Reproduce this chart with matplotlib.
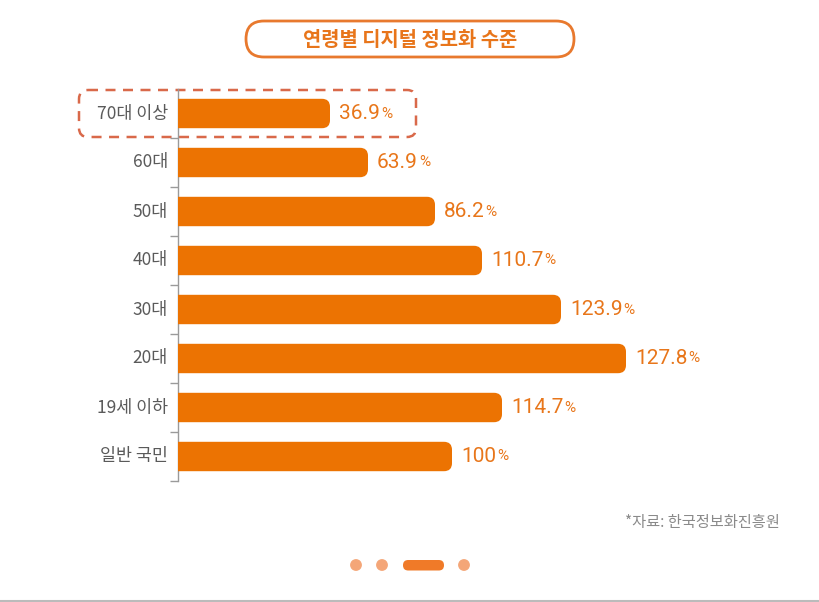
import matplotlib
matplotlib.use("Agg")
import matplotlib.pyplot as plt
from matplotlib.patches import FancyBboxPatch
import numpy as np

plt.rcParams['font.family'] = ['Noto Sans CJK KR', 'DejaVu Sans']

# ---- data ----
categories = ['70대 이상', '60대', '50대', '40대', '30대', '20대', '19세 이하', '일반 국민']
values = [36.9, 63.9, 86.2, 110.7, 123.9, 127.8, 114.7, 100]
value_labels = ['36.9', '63.9', '86.2', '110.7', '123.9', '127.8', '114.7', '100']
# bar lengths as drawn in the picture (arbitrary units; not proportional to values)
bar_lengths = [152, 190, 257, 304, 383, 448, 324, 274]
title = '연령별 디지털 정보화 수준'
source = '*자료: 한국정보화진흥원'

W, H = 820, 602
fig = plt.figure(figsize=(W / 100, H / 100), dpi=100)
fig.patch.set_facecolor('white')

# overlay axes in pixel coordinates for decorations
ov = fig.add_axes([0, 0, 1, 1], zorder=0)
ov.set_xlim(0, W)
ov.set_ylim(H, 0)
ov.axis('off')

# main bar axes
ax_left, ax_top, ax_bottom = 178, 89, 481
ax = fig.add_axes([ax_left / W, (H - ax_bottom) / H, (W - ax_left) / W, (ax_bottom - ax_top) / H], zorder=2)
ax.patch.set_alpha(0)
ax.set_xlim(0, W - ax_left)
ax.set_ylim(len(categories) - 0.5, -0.5)

bar_color = '#EC7302'
label_color = '#E8761A'
bar_h = 0.6
px_per_y = (ax_bottom - ax_top) / len(categories)
for i, L in enumerate(bar_lengths):
    p = FancyBboxPatch((-15, i - bar_h / 2), L + 15, bar_h,
                       boxstyle='round,pad=0,rounding_size=8',
                       mutation_aspect=1 / px_per_y,
                       facecolor=bar_color, edgecolor='none', zorder=3, clip_on=True)
    ax.add_patch(p)

for s in ['top', 'right', 'bottom']:
    ax.spines[s].set_visible(False)
ax.spines['left'].set_color('#9A9A9A')
ax.spines['left'].set_linewidth(1.0)
ax.set_xticks([])
ax.set_yticks(np.arange(0.5, len(categories), 1.0))
ax.set_yticklabels([])
ax.tick_params(axis='y', length=6, color='#9A9A9A', width=1.0, direction='out')

for i, c in enumerate(categories):
    ax.annotate(c, xy=(0, i), xycoords='data', xytext=(-10, 0), textcoords='offset pixels',
                ha='right', va='center', fontsize=12.5, color='#5A5A5A')

# value labels
num_texts = []
for i, (L, lab) in enumerate(zip(bar_lengths, value_labels)):
    t = ax.annotate(lab, xy=(L, i), xycoords='data', xytext=(9, 0), textcoords='offset pixels',
                    ha='left', va='center', fontsize=15, color=label_color,
                    family=['Roboto', 'DejaVu Sans'])
    num_texts.append(t)

fig.canvas.draw()
r = fig.canvas.get_renderer()
for i, t in enumerate(num_texts):
    bb = t.get_window_extent(renderer=r)
    inv = ax.transData.inverted()
    x1 = inv.transform((bb.x1, 0))[0]
    ax.annotate('%', xy=(x1, i), xycoords='data', xytext=(1, 0), textcoords='offset pixels',
                ha='left', va='center', fontsize=11, color=label_color,
                family=['Roboto', 'DejaVu Sans'])

# title pill
tb = FancyBboxPatch((246, 21), 328, 36, boxstyle='round,pad=0,rounding_size=18',
                    facecolor='white', edgecolor='#E8792E', linewidth=2)
ov.add_patch(tb)
ov.text(410, 40, title, ha='center', va='center', fontsize=14.3, fontweight='bold', color='#E8751A')

# dashed highlight box
hb = FancyBboxPatch((79, 90), 337, 47, boxstyle='round,pad=0,rounding_size=9',
                    facecolor='none', edgecolor='#D9694A', linewidth=1.8,
                    linestyle=(0, (4, 3)), zorder=4)
ov.add_patch(hb)

# source
ov.text(780, 522, source, ha='right', va='center', fontsize=11, color='#8A8A8A')

# pagination dots
for cx in [356, 382, 464]:
    ov.add_patch(plt.Circle((cx, 565), 5.2, color='#F4A678'))
ov.add_patch(FancyBboxPatch((403, 560), 41, 10.5, boxstyle='round,pad=0,rounding_size=5.2',
                            facecolor='#F07A28', edgecolor='none'))

# bottom line
ov.plot([0, W], [601, 601], color='#BBBBBB', linewidth=1.5)

fig.savefig('out.png', dpi=100, facecolor='white')
